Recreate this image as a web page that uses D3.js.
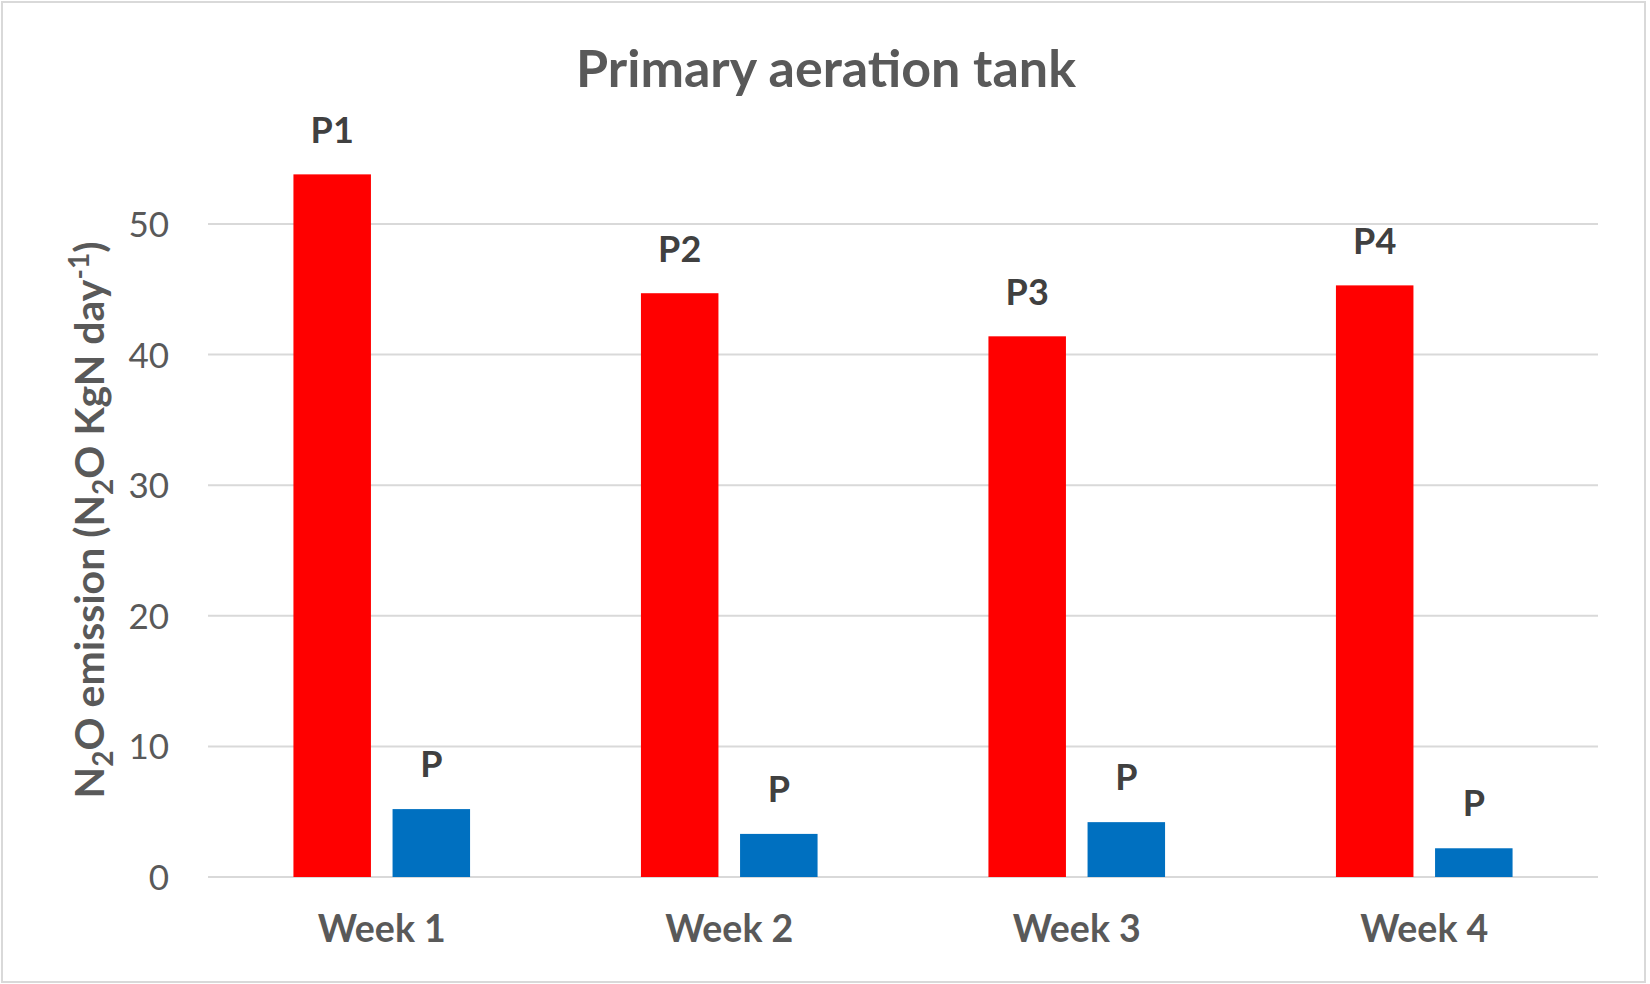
<!DOCTYPE html>
<html>
<head>
<meta charset="utf-8">
<script src="https://cdn.jsdelivr.net/npm/d3@7"></script>
<style>
  html, body { margin: 0; padding: 0; background: #fff; }
  svg { display: block; font-family: Lato, "Open Sans", sans-serif; }
</style>
</head>
<body>
<svg id="chart" width="1650" height="984"></svg>
<script>
// ---- data ----
const weeks = ["Week 1", "Week 2", "Week 3", "Week 4"];
const primaryValues = [53.8, 44.7, 41.4, 45.3];
const primaryLabels = ["P1", "P2", "P3", "P4"];
const secondaryValues = [5.2, 3.3, 4.2, 2.2];
const secondaryLabels = ["P", "P", "P", "P"];
const yTicks = [0, 10, 20, 30, 40, 50];
const titleText = "Primary aeration tank";

// ---- layout ----
const W = 1650, H = 984;
const plotLeft = 208, plotRight = 1598;
const yZero = 877, yFifty = 224;
const textDark = "#404040", textGray = "#595959", gridColor = "#d9d9d9";

const svg = d3.select("#chart");

svg.append("rect")
  .attr("x", 2).attr("y", 2).attr("width", W - 7).attr("height", H - 4)
  .attr("fill", "#fff").attr("stroke", gridColor).attr("stroke-width", 2);

const x = d3.scaleBand().domain(weeks).range([plotLeft, plotRight]).paddingInner(0).paddingOuter(0);
const x1 = d3.scaleBand().domain(["primary", "secondary"]).range([0, x.bandwidth()])
  .paddingInner(0.218).paddingOuter(0.862);
const y = d3.scaleLinear().domain([0, 50]).range([yZero, yFifty]);

// gridlines
svg.append("g").selectAll("line").data(yTicks).join("line")
  .attr("x1", plotLeft).attr("x2", plotRight)
  .attr("y1", d => y(d)).attr("y2", d => y(d))
  .attr("stroke", gridColor).attr("stroke-width", 2);

// tick labels
svg.append("g").selectAll("text").data(yTicks).join("text")
  .attr("x", 169).attr("y", d => y(d) + 13)
  .attr("text-anchor", "end")
  .attr("font-size", 35).attr("fill", textGray)
  .text(d => d);

const rows = weeks.map((w, i) => ({
  week: w,
  p: primaryValues[i], pl: primaryLabels[i],
  s: secondaryValues[i], sl: secondaryLabels[i]
}));

const groups = svg.append("g").selectAll("g").data(rows).join("g")
  .attr("transform", d => `translate(${x(d.week)},0)`);

groups.append("rect")
  .attr("x", x1("primary")).attr("width", x1.bandwidth())
  .attr("y", d => y(d.p)).attr("height", d => y(0) - y(d.p))
  .attr("fill", "#ff0000");
groups.append("rect")
  .attr("x", x1("secondary")).attr("width", x1.bandwidth())
  .attr("y", d => y(d.s)).attr("height", d => y(0) - y(d.s))
  .attr("fill", "#0070c0");

groups.append("text")
  .attr("x", x1("primary") + x1.bandwidth() / 2).attr("y", d => y(d.p) - 31)
  .attr("text-anchor", "middle").attr("font-size", 36).attr("font-weight", "bold")
  .attr("fill", textDark).text(d => d.pl);
groups.append("text")
  .attr("x", x1("secondary") + x1.bandwidth() / 2).attr("y", d => y(d.s) - 32)
  .attr("text-anchor", "middle").attr("font-size", 36).attr("font-weight", "bold")
  .attr("fill", textDark).text(d => d.sl);

// category labels
svg.append("g").selectAll("text").data(weeks).join("text")
  .attr("x", d => x(d) + x.bandwidth() / 2).attr("y", 942)
  .attr("text-anchor", "middle").attr("font-size", 37.5).attr("font-weight", "bold")
  .attr("fill", textGray).text(d => d);

// title
svg.append("text")
  .attr("x", 826).attr("y", 87).attr("text-anchor", "middle")
  .attr("font-size", 52).attr("font-weight", "bold").attr("fill", textGray)
  .text(titleText);

// y axis label
const yl = svg.append("text")
  .attr("transform", "translate(104,520) rotate(-90)")
  .attr("text-anchor", "middle").attr("font-size", 41).attr("font-weight", "bold")
  .attr("fill", textGray);
yl.append("tspan").text("N");
yl.append("tspan").attr("font-size", 28).attr("dy", 9).text("2");
yl.append("tspan").attr("dy", -9).text("O emission (N");
yl.append("tspan").attr("font-size", 28).attr("dy", 9).text("2");
yl.append("tspan").attr("dy", -9).text("O KgN day");
yl.append("tspan").attr("font-size", 28).attr("dy", -15).text("-1");
yl.append("tspan").attr("dy", 15).text(")");
</script>
</body>
</html>
